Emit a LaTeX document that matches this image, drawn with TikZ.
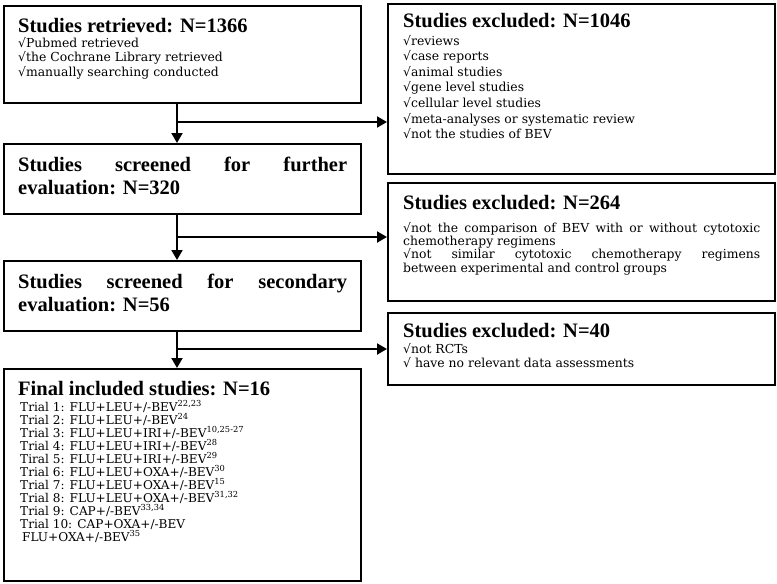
\documentclass[tikz,border=0pt]{standalone}
\usepackage{fontspec}
\setmainfont{Liberation Serif}
\newfontfamily\bodyfont{DejaVu Serif}
\usetikzlibrary{arrows.meta}
\newcommand\mysup[1]{\textsuperscript{\fontsize{8.3}{9}\selectfont #1}}
\begin{document}
\begin{tikzpicture}[x=1pt,y=-1pt,
  box/.style={draw, line width=2.4pt, inner sep=0pt, anchor=north west},
  lbox/.style={box, minimum width=357pt},
  rbox/.style={box, minimum width=387pt},
  ttl/.style={anchor=base west, inner sep=0pt, align=left, font=\fontsize{20.5}{23}\selectfont\bfseries},
  lst/.style={anchor=base west, inner sep=0pt, align=left, font=\bodyfont\fontsize{12.4}{14.6}\selectfont},
  trl/.style={anchor=base west, inner sep=0pt, align=left, font=\bodyfont\fontsize{12.1}{13}\selectfont},
  arr/.style={line width=2pt, -{Triangle[length=10pt,width=11pt]}}]
\useasboundingbox (0,0) rectangle (777,584);

% left boxes
\node[lbox, minimum height=97pt] (L1) at (3,5) {};
\node[lbox, minimum height=70pt] (L2) at (3,143) {};
\node[lbox, minimum height=70pt] (L3) at (3,260) {};
\node[lbox, minimum height=212pt] (L4) at (3,368) {};
% right boxes
\node[rbox, minimum height=170pt] (R1) at (387,3) {};
\node[rbox, minimum height=118pt] (R2) at (387,182) {};
\node[rbox, minimum height=72pt] (R3) at (387,312) {};

% texts (multi-line nodes are anchored at the baseline of their last line)
\node[ttl] (t1) at (18,32) {Studies retrieved: N=1366};
\node[lst] (l1) at (18,76.2) {√Pubmed retrieved\\√the Cochrane Library retrieved\\√manually searching conducted};

\node[ttl] (t2) at (18,194) {\makebox[329pt][s]{Studies screened for further}\\evaluation: N=320};
\node[ttl] (t3) at (18,311) {\makebox[329pt][s]{Studies screened for secondary}\\evaluation: N=56};

\node[ttl] (t4) at (18,395) {Final included studies: N=16};
\node[trl] (l4) at (20,541) {Trial 1: FLU+LEU+/-BEV\mysup{22,23}\\
Trial 2: FLU+LEU+/-BEV\mysup{24}\\
Trial 3: FLU+LEU+IRI+/-BEV\mysup{10,25-27}\\
Trial 4: FLU+LEU+IRI+/-BEV\mysup{28}\\
Tiral 5: FLU+LEU+IRI+/-BEV\mysup{29}\\
Trial 6: FLU+LEU+OXA+/-BEV\mysup{30}\\
Trial 7: FLU+LEU+OXA+/-BEV\mysup{15}\\
Trial 8: FLU+LEU+OXA+/-BEV\mysup{31,32}\\
Trial 9: CAP+/-BEV\mysup{33,34}\\
Trial 10: CAP+OXA+/-BEV\\
\hspace{2pt}FLU+OXA+/-BEV\mysup{35}};

\node[ttl] (r1t) at (403,27) {Studies excluded: N=1046};
\node[lst, font=\bodyfont\fontsize{12.4}{15.6}\selectfont] (r1l) at (403,138.6) {√reviews\\√case reports\\√animal studies\\√gene level studies\\√cellular level studies\\√meta-analyses or systematic review\\√not the studies of BEV};

\node[ttl] (r2t) at (403,209) {Studies excluded: N=264};
\node[lst] (r2a) at (403,232) {\makebox[357pt][s]{√not the comparison of BEV with or without cytotoxic}};
\node[lst] (r2b) at (403,245.4) {chemotherapy regimens};
\node[lst] (r2c) at (403,258.8) {\makebox[357pt][s]{√not similar cytotoxic chemotherapy regimens}};
\node[lst] (r2d) at (403,272.2) {between experimental and control groups};

\node[ttl] (r3t) at (403,337) {Studies excluded: N=40};
\node[lst, font=\bodyfont\fontsize{12.4}{14}\selectfont] (r3l) at (403,367) {√not RCTs\\√ have no relevant data assessments};

% connectors
\coordinate (tx) at (177,0);
\coordinate (b1) at (177,122);
\coordinate (b2) at (177,237);
\coordinate (b3) at (177,349);
\draw[arr] (tx |- L1.south) -- (tx |- L2.north);
\draw[arr] (tx |- L2.south) -- (tx |- L3.north);
\draw[arr] (tx |- L3.south) -- (tx |- L4.north);
\draw[arr] (b1) -- (b1 -| R1.west);
\draw[arr] (b2) -- (b2 -| R2.west);
\draw[arr] (b3) -- (b3 -| R3.west);
\end{tikzpicture}
\end{document}
